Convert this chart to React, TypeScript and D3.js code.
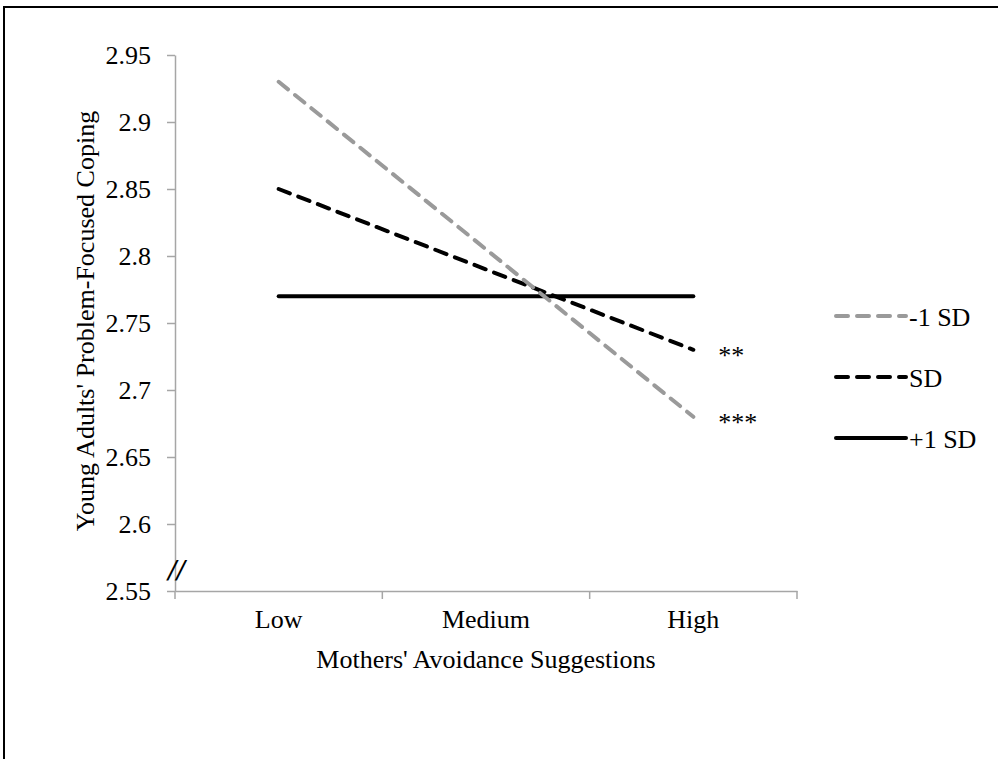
import React, { useEffect, useRef } from 'react';
import * as d3 from 'd3';

const categories = ['Low', 'Medium', 'High'];
const seriesNames = ['-1 SD', 'SD', '+1 SD'];
const minusSD = [2.93, 2.805, 2.68];
const meanSD = [2.85, 2.79, 2.73];
const plusSD = [2.77, 2.77, 2.77];
const yTicks = [2.55, 2.6, 2.65, 2.7, 2.75, 2.8, 2.85, 2.9, 2.95];
const stars = ['***', '**', ''];

const FONT = '"Liberation Serif", "Times New Roman", serif';
const FS = 26;

export default function App() {
  const ref = useRef<SVGSVGElement>(null);

  useEffect(() => {
    const svg = d3.select(ref.current);
    svg.selectAll('*').remove();

    // outer frame (top + left only visible)
    svg.append('path')
      .attr('d', 'M4,759 L4,7 L998,7')
      .attr('fill', 'none')
      .attr('stroke', '#000')
      .attr('stroke-width', 2);

    const x = d3.scaleBand().domain(categories).range([175, 797]);
    const y = d3.scaleLinear().domain([2.55, 2.95]).range([591, 55]);

    const yAxis = svg.append('g')
      .attr('transform', 'translate(175,0)')
      .call(d3.axisLeft(y).tickValues(yTicks).tickSize(8).tickSizeOuter(0).tickPadding(16)
        .tickFormat((d) => String(+d)));
    yAxis.select('.domain').attr('stroke', '#a6a6a6').attr('stroke-width', 1.5);
    yAxis.selectAll('.tick line').attr('stroke', '#a6a6a6').attr('stroke-width', 1.5);
    yAxis.selectAll('.tick text')
      .attr('font-family', FONT).attr('font-size', FS).attr('fill', '#000');

    const xAxis = svg.append('g')
      .attr('transform', 'translate(0,591)')
      .call(d3.axisBottom(x).tickSize(0).tickPadding(19));
    xAxis.select('.domain').attr('stroke', '#a6a6a6').attr('stroke-width', 1.5);
    xAxis.selectAll('.tick text')
      .attr('font-family', FONT).attr('font-size', FS).attr('fill', '#000');
    // tick marks between categories
    const edges = categories.map((c) => x(c)!).concat([x(categories[categories.length - 1])! + x.bandwidth()]);
    xAxis.selectAll('.edge').data(edges).enter().append('line')
      .attr('x1', (d) => d).attr('x2', (d) => d)
      .attr('y1', 0).attr('y2', 8)
      .attr('stroke', '#a6a6a6').attr('stroke-width', 1.5);

    // axis break
    svg.append('text')
      .attr('x', 168).attr('y', 578)
      .attr('font-family', '"DejaVu Sans", sans-serif')
      .attr('font-size', 25)
      .attr('font-style', 'italic')
      .text('//');

    const series = [
      { name: seriesNames[0], values: minusSD, color: '#9a9a9a', dash: '12,9' },
      { name: seriesNames[1], values: meanSD, color: '#000', dash: '12,9' },
      { name: seriesNames[2], values: plusSD, color: '#000', dash: null },
    ];

    const line = d3.line<number>()
      .x((_, i) => x(categories[i])! + x.bandwidth() / 2)
      .y((d) => y(d));

    // draw solid first, then dashed on top
    [series[2], series[1], series[0]].forEach((s) => {
      svg.append('path')
        .datum(s.values)
        .attr('d', line)
        .attr('fill', 'none')
        .attr('stroke', s.color)
        .attr('stroke-width', 4)
        .attr('stroke-linecap', 'round')
        .attr('stroke-dasharray', s.dash);
    });

    // significance markers
    const lastX = x(categories[2])! + x.bandwidth() / 2;
    [series[0], series[1]].forEach((s, i) => {
      svg.append('text')
        .attr('x', lastX + 25)
        .attr('y', y(s.values[2]) + 14)
        .attr('font-family', FONT)
        .attr('font-size', FS)
        .text(stars[i]);
    });

    // legend
    const legend = svg.append('g');
    series.forEach((s, i) => {
      const ly = 316 + i * 61;
      legend.append('line')
        .attr('x1', 836).attr('x2', 906)
        .attr('y1', ly).attr('y2', ly)
        .attr('stroke', s.color)
        .attr('stroke-width', 4)
        .attr('stroke-linecap', 'round')
        .attr('stroke-dasharray', s.dash);
      legend.append('text')
        .attr('x', 909).attr('y', ly + 10)
        .attr('font-family', FONT)
        .attr('font-size', FS)
        .text(s.name);
    });

    // axis titles
    svg.append('text')
      .attr('x', 486).attr('y', 668)
      .attr('text-anchor', 'middle')
      .attr('font-family', FONT).attr('font-size', FS)
      .text("Mothers' Avoidance Suggestions");

    svg.append('text')
      .attr('transform', 'translate(94,321) rotate(-90)')
      .attr('text-anchor', 'middle')
      .attr('font-family', FONT).attr('font-size', FS)
      .text("Young Adults' Problem-Focused Coping");
  }, []);

  return (
    <svg ref={ref} width={998} height={759}
      style={{ position: 'absolute', left: 0, top: 0, background: '#fff' }} />
  );
}
